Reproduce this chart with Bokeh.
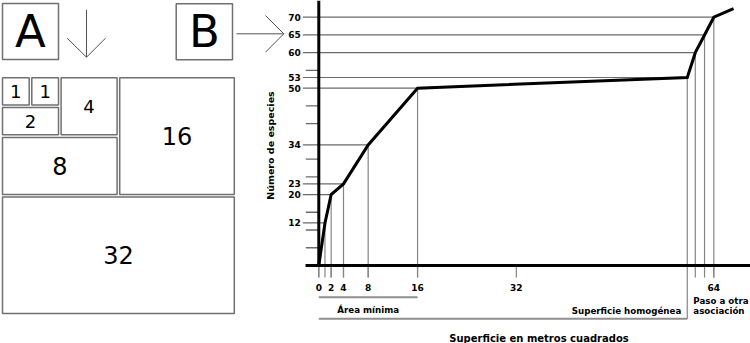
import math
from bokeh.plotting import figure
from bokeh.models import Range1d
from bokeh.core.properties import value
from bokeh.embed import file_html
from bokeh.resources import INLINE

# ---------------- data ----------------
area_m2 = [0, 1, 2, 4, 8, 16, 59.7, 61.0, 62.5, 64, 67.2]      # surface sampled (m²)
n_species = [0, 12, 20, 23, 34, 50, 53, 60, 65, 70, 72.4]       # species found
x_ticks = [0, 2, 4, 8, 16, 32, 64]
y_ticks = [12, 20, 23, 34, 50, 53, 60, 65, 70]
y_minor_ticks = [5, 10, 15, 25, 30, 40, 45, 55]
quadrat_areas = [1, 1, 2, 4, 8, 16, 32]
minimal_area = 16          # end of "Área mínima"
homogeneous_end = 59.7     # end of "Superficie homogénea"

x_title = "Superficie en metros cuadrados"
y_title = "Número de especies"
label_min_area = "Área mínima"
label_homog = "Superficie homogénea"
label_transition = ["Paso a otra", "asociación"]
panel_labels = ["A", "B"]

# ---------------- layout / style ----------------
W, H = 750, 343
X0_PX, X_SCALE = 318.3, 6.172   # pixel of 0 m², pixels per m²
Y0_PX, Y_SCALE = 265.0, 3.547   # pixel of 0 species, pixels per species


def dx(px):
    return px / X_SCALE


def dy(px):
    return px / Y_SCALE


FONT = value("DejaVu Sans")
GUIDE = "#6a6a6a"
DROPC = "#858585"
BRACKET = "#8f8f8f"
BOXC = "#707070"
TICK_FS = "9px"
NOTE_FS = "8.7px"

p = figure(width=W, height=H,
           x_range=Range1d(-dx(X0_PX), dx(W - X0_PX)),
           y_range=Range1d(-dy(H - Y0_PX), dy(Y0_PX)),
           output_backend="svg", toolbar_location=None,
           x_axis_type=None, y_axis_type=None, min_border=0, title=None)
p.outline_line_color = None
p.background_fill_color = "white"
p.border_fill_color = "white"

# quadrat grid (left panel) and page coordinates for decorations
Q_X0, Q_Y0, Q_UX, Q_UY = 0.7, 76.0, 29.3, 29.8
p.extra_x_ranges = {"qx": Range1d(-Q_X0 / Q_UX, (W - Q_X0) / Q_UX),
                    "page_x": Range1d(0, W)}
p.extra_y_ranges = {"qy": Range1d((H - Q_Y0) / Q_UY, -Q_Y0 / Q_UY),
                    "page_y": Range1d(H, 0)}

# ---------------- chart B ----------------
TICK_OUT = dx(16)
MINOR_OUT = dx(13)
DROP = dy(12)
BR1_Y = -dy(31.7)
BR2_Y = -dy(53.3)

# horizontal guides from labelled y ticks to the curve
gi = [i for i, s in enumerate(n_species) if s in y_ticks]
p.segment(x0=[-TICK_OUT] * len(gi), y0=[n_species[i] for i in gi],
          x1=[area_m2[i] for i in gi], y1=[n_species[i] for i in gi],
          line_color=GUIDE, line_width=1.2)

# vertical drops from the curve points below the x axis
di = [0] + gi
p.segment(x0=[area_m2[i] for i in di], y0=[n_species[i] for i in di],
          x1=[area_m2[i] for i in di],
          y1=[BR2_Y if area_m2[i] == homogeneous_end else -DROP for i in di],
          line_color=DROPC, line_width=1.2)

# x tick marks
p.segment(x0=x_ticks, y0=[0] * len(x_ticks), x1=x_ticks, y1=[-DROP] * len(x_ticks),
          line_color=DROPC, line_width=1.2)
# minor y ticks
p.segment(x0=[-MINOR_OUT] * len(y_minor_ticks), y0=y_minor_ticks,
          x1=[0] * len(y_minor_ticks), y1=y_minor_ticks,
          line_color=GUIDE, line_width=1.4)

# axes
p.segment(x0=[-dx(13.3)], y0=[0], x1=[p.x_range.end], y1=[0], line_color="black", line_width=3)
p.segment(x0=[0], y0=[0], x1=[0], y1=[p.y_range.end], line_color="black", line_width=3)

# species-area curve
p.line(area_m2, n_species, line_color="black", line_width=3, line_join="miter")

# tick labels
p.text(x=[-dx(18)] * len(y_ticks), y=y_ticks, text=[str(t) for t in y_ticks],
       text_font=FONT, text_font_style="bold", text_font_size=TICK_FS,
       text_align="right", text_baseline="middle", text_color="black")
p.text(x=x_ticks, y=[-dy(21.7)] * len(x_ticks), text=[str(t) for t in x_ticks],
       text_font=FONT, text_font_style="bold", text_font_size=TICK_FS,
       text_align="center", text_baseline="middle", text_color="black")

# brackets
p.segment(x0=[0, 0], y0=[BR1_Y, BR2_Y], x1=[minimal_area, homogeneous_end], y1=[BR1_Y, BR2_Y],
          line_color=BRACKET, line_width=2)
p.text(x=[minimal_area / 2], y=[-dy(44.3)], text=[label_min_area],
       text_font=FONT, text_font_style="bold", text_font_size=NOTE_FS,
       text_align="center", text_baseline="middle")
p.text(x=[homogeneous_end - dx(6)], y=[-dy(45)], text=[label_homog],
       text_font=FONT, text_font_style="bold", text_font_size=NOTE_FS,
       text_align="right", text_baseline="middle")
p.text(x=[homogeneous_end + dx(6)] * 2, y=[-dy(35.7), -dy(45)], text=label_transition,
       text_font=FONT, text_font_style="bold", text_font_size=NOTE_FS,
       text_align="left", text_baseline="middle")

# axis titles
p.text(x=[538.5], y=[338], text=[x_title], x_range_name="page_x", y_range_name="page_y",
       text_font=FONT, text_font_style="bold", text_font_size="10px",
       text_align="center", text_baseline="middle")
p.text(x=[270], y=[145], text=[y_title], angle=math.pi / 2,
       x_range_name="page_x", y_range_name="page_y",
       text_font=FONT, text_font_style="bold", text_font_size="9.5px",
       text_align="center", text_baseline="middle")

# ---------------- panel A: nested quadrats ----------------
def quadrat_layout(areas):
    boxes, cw, ch = [], 0.0, 0.0
    for a in areas:
        if cw == 0:
            s = math.sqrt(a)
            x, y, w, h = 0.0, 0.0, s, s
            cw, ch = s, s
        elif cw <= ch:          # square so far -> grow to the right
            h = ch
            w = a / h
            x, y = cw, 0.0
            cw += w
        else:                   # wider -> grow downwards
            w = cw
            h = a / w
            x, y = 0.0, ch
            ch += h
        boxes.append((x, y, w, h, a))
    return boxes


boxes = quadrat_layout(quadrat_areas)
gx, gy = 1.3 / Q_UX, 1.3 / Q_UY
p.quad(left=[b[0] + gx for b in boxes], right=[b[0] + b[2] - gx for b in boxes],
       top=[b[1] + gy for b in boxes], bottom=[b[1] + b[3] - gy for b in boxes],
       x_range_name="qx", y_range_name="qy",
       fill_color=None, line_color=BOXC, line_width=1.5)
for small in (True, False):
    sel = [b for b in boxes if (b[4] <= 4) == small]
    p.text(x=[b[0] + b[2] / 2 for b in sel], y=[b[1] + b[3] / 2 for b in sel],
           text=[str(b[4]) for b in sel], x_range_name="qx", y_range_name="qy",
           text_font=FONT, text_font_size="18px" if small else "24px",
           text_align="center", text_baseline="middle", text_color="black")

# ---------------- decorations: A / B boxes and arrows ----------------
p.quad(left=[2, 175.7], right=[58, 232], top=[3, 3.3], bottom=[59, 59.3],
       x_range_name="page_x", y_range_name="page_y",
       fill_color=None, line_color=BOXC, line_width=1.5)
p.text(x=[30, 204], y=[31.3, 31.3], text=panel_labels,
       x_range_name="page_x", y_range_name="page_y",
       text_font=FONT, text_font_size="45px",
       text_align="center", text_baseline="middle", text_color="black")
p.segment(x0=[86, 66.7, 105, 236, 265, 265], y0=[9.3, 37.7, 37.7, 33.3, 15, 51.7],
          x1=[86, 86, 86, 283.3, 283.3, 283.3], y1=[56.7, 56.7, 56.7, 33.3, 33.3, 33.3],
          x_range_name="page_x", y_range_name="page_y",
          line_color="#555555", line_width=1)

open("out.html", "w").write(file_html(p, INLINE))
